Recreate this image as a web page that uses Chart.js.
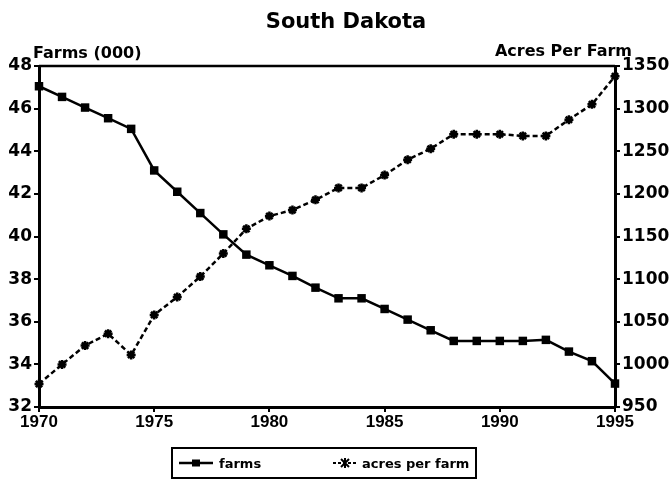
<!DOCTYPE html>
<html>
<head>
<meta charset="utf-8">
<script src="https://cdn.jsdelivr.net/npm/chart.js@4/dist/chart.umd.min.js"></script>
<style>
  html,body{margin:0;padding:0;background:#fff;}
  #wrap{position:relative;width:669px;height:481px;}
  #legend{position:absolute;left:171px;top:447px;width:302px;height:28px;border:2px solid #000;
    font:bold 13px "DejaVu Sans";color:#000;}
  #legend .item{position:absolute;top:0;height:28px;display:flex;align-items:center;}
  #legend svg{display:block;}
</style>
</head>
<body>
<div id="wrap">
  <canvas id="c" width="669" height="481"></canvas>
  <div id="legend">
    <div class="item" style="left:6px">
      <svg width="36" height="12"><line x1="0" y1="6" x2="34" y2="6" stroke="#000" stroke-width="2.5"/><rect x="13" y="2.5" width="8" height="7" fill="#000"/></svg>
      <span style="margin-left:4px">farms</span>
    </div>
    <div class="item" style="left:160px">
      <svg width="26" height="12"><line x1="0" y1="6" x2="24" y2="6" stroke="#000" stroke-width="2" stroke-dasharray="3,2"/><path d="M8 2 L16 10 M16 2 L8 10 M12 1 L12 11" stroke="#000" stroke-width="2"/></svg>
      <span style="margin-left:3px">acres per farm</span>
    </div>
  </div>
</div>
<script>
const years = [1970,1971,1972,1973,1974,1975,1976,1977,1978,1979,1980,1981,1982,1983,1984,1985,1986,1987,1988,1989,1990,1991,1992,1993,1994,1995];
const farms = [47.05,46.55,46.05,45.55,45.05,43.1,42.1,41.1,40.1,39.15,38.65,38.15,37.6,37.1,37.1,36.6,36.1,35.6,35.1,35.1,35.1,35.1,35.15,34.6,34.15,33.1];
const acresPerFarm = [977,1000,1022,1036,1011,1058,1079,1103,1130,1159,1174,1181,1193,1207,1207,1222,1240,1253,1270,1270,1270,1268,1268,1287,1305,1338];
const xTicks = [1970,1975,1980,1985,1990,1995];
const farmTicks = [32,34,36,38,40,42,44,46,48];
const acreTicks = [950,1000,1050,1100,1150,1200,1250,1300,1350];
const title = "South Dakota";
const leftTitle = "Farms (000)";
const rightTitle = "Acres Per Farm";

const textPlugin = {
  id: 'texts',
  afterDraw(chart) {
    const ctx = chart.ctx, a = chart.chartArea;
    ctx.save();
    ctx.strokeStyle = '#000';
    ctx.lineWidth = 2.5;
    ctx.beginPath();
    ctx.moveTo(a.left, a.top);
    ctx.lineTo(a.right, a.top);
    ctx.stroke();
    ctx.fillStyle = '#000';
    ctx.textBaseline = 'alphabetic';
    ctx.font = 'bold 21px "DejaVu Sans"';
    ctx.textAlign = 'center';
    ctx.fillText(title, 346, 28);
    ctx.font = 'bold 16px "DejaVu Sans"';
    ctx.textAlign = 'left';
    ctx.fillText(leftTitle, 33, 58);
    ctx.textAlign = 'right';
    ctx.fillText(rightTitle, 632, 56);
    ctx.restore();
  }
};

const yFont = {family: 'DejaVu Sans', size: 17, weight: 'bold'};
const xFont = {family: 'Liberation Sans', size: 17, weight: 'bold'};

new Chart(document.getElementById('c'), {
  type: 'line',
  data: {
    datasets: [
      {
        label: 'farms',
        data: years.map((y, i) => ({x: y, y: farms[i]})),
        yAxisID: 'y',
        borderColor: '#000',
        backgroundColor: '#000',
        borderWidth: 2.5,
        pointStyle: 'rect',
        pointRadius: 6,
        pointBorderWidth: 0,
        tension: 0,
        clip: false
      },
      {
        label: 'acres per farm',
        data: years.map((y, i) => ({x: y, y: acresPerFarm[i]})),
        yAxisID: 'y1',
        borderColor: '#000',
        backgroundColor: '#000',
        borderWidth: 2.5,
        borderDash: [5, 3],
        pointStyle: 'star',
        pointRadius: 4.5,
        pointBorderWidth: 2.5,
        tension: 0,
        clip: false
      }
    ]
  },
  options: {
    responsive: false,
    animation: false,
    layout: {padding: {top: 66, left: 0, right: 0, bottom: 0}},
    plugins: {legend: {display: false}, title: {display: false}, tooltip: {enabled: false}},
    scales: {
      x: {
        type: 'linear',
        min: 1970, max: 1995,
        afterFit: s => { s.height = 74; },
        afterBuildTicks: s => { s.ticks = xTicks.map(v => ({value: v})); },
        ticks: {font: xFont, color: '#000', padding: 0, maxRotation: 0, callback: v => String(v)},
        grid: {display: true, drawOnChartArea: false, drawTicks: true, tickLength: 5, color: '#000', lineWidth: 2},
        border: {display: true, color: '#000', width: 3}
      },
      y: {
        position: 'left',
        min: 32, max: 48,
        afterFit: s => { s.width = 39; },
        afterBuildTicks: s => { s.ticks = farmTicks.map(v => ({value: v})); },
        ticks: {font: yFont, color: '#000', padding: 2, callback: v => String(v)},
        grid: {display: true, drawOnChartArea: false, drawTicks: true, tickLength: 5, color: '#000', lineWidth: 2},
        border: {display: true, color: '#000', width: 3}
      },
      y1: {
        position: 'right',
        min: 950, max: 1350,
        afterFit: s => { s.width = 54; },
        afterBuildTicks: s => { s.ticks = acreTicks.map(v => ({value: v})); },
        ticks: {font: yFont, color: '#000', padding: 2, callback: v => String(v)},
        grid: {display: true, drawOnChartArea: false, drawTicks: true, tickLength: 5, color: '#000', lineWidth: 2},
        border: {display: true, color: '#000', width: 3}
      }
    }
  },
  plugins: [textPlugin]
});
</script>
</body>
</html>
